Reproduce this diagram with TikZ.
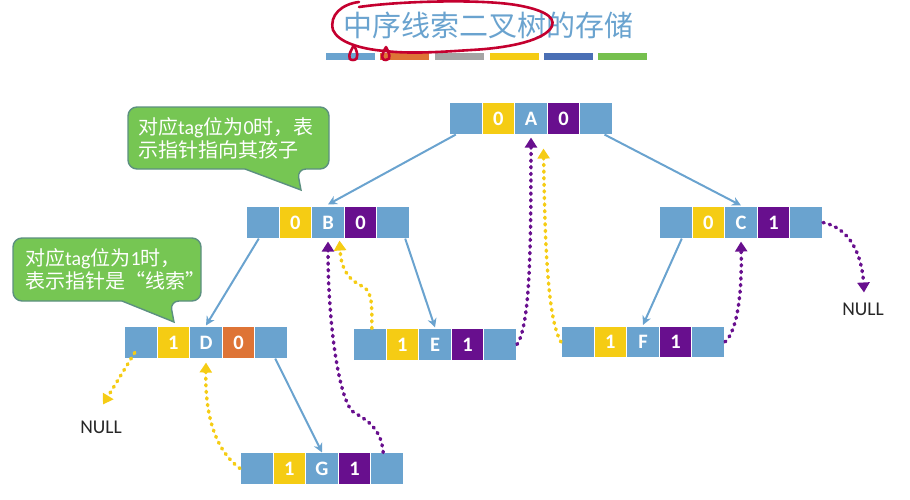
\documentclass[tikz,border=0pt]{standalone}
\usepackage{fontspec}
\setmainfont{Carlito}
\newfontfamily\cjk{Noto Sans CJK SC}
\usetikzlibrary{arrows.meta}
\definecolor{cellblue}{HTML}{6AA3CF}
\definecolor{tagyellow}{HTML}{F5CC14}
\definecolor{tagpurple}{HTML}{680F8E}
\definecolor{tagorange}{HTML}{DE7436}
\definecolor{barblue}{HTML}{4A6FB5}
\definecolor{bargreen}{HTML}{76C04E}
\definecolor{bargray}{HTML}{A5A5A5}
\definecolor{tipgreen}{HTML}{76C653}
\definecolor{tipedge}{HTML}{5C9080}
\definecolor{inkred}{HTML}{C4002F}
\tikzset{
  cellbox/.style={draw=white,line width=0.6pt,minimum width=33pt,minimum height=31.5pt,inner sep=0pt,text=white,font=\fontsize{20.5}{21}\selectfont\bfseries},
  ptrcell/.style={cellbox,fill=cellblue},
  yellowcell/.style={cellbox,fill=tagyellow},
  purplecell/.style={cellbox,fill=tagpurple},
  orangecell/.style={cellbox,fill=tagorange},
  childline/.style={draw=cellblue,line width=2pt,-{Stealth[length=9pt,width=9pt]}},
  threadline/.style={line width=3.5pt,line cap=round,dash pattern=on 1.2pt off 5.4pt},
  purplethread/.style={threadline,draw=tagpurple,-{Triangle[length=10pt,width=12pt,fill=tagpurple]}},
  yellowthread/.style={threadline,draw=tagyellow,-{Triangle[length=10pt,width=12pt,fill=tagyellow]}},
  tipbox/.style={draw=tipedge,line width=1.4pt,fill=tipgreen},
  tiptext/.style={anchor=north west,inner sep=0pt,align=left,text=white,font=\fontsize{20}{23}\selectfont},
  nulltext/.style={inner sep=0pt,text=black!85,font=\fontsize{19.5}{20}\selectfont},
  titlebar/.style={minimum width=49pt,minimum height=6.5pt,inner sep=0pt},
  inkline/.style={draw=inkred,line width=2.6pt,line cap=round,line join=round}
}
\begin{document}
\begin{tikzpicture}[x=1pt,y=-1pt]
\useasboundingbox (0,0) rectangle (910,499);

\node[text=cellblue,font=\fontsize{29}{30}\selectfont\cjk] (title) at (488,25) {中序线索二叉树的存储};
\node[titlebar,fill=cellblue] (bar1) at (350.5,56.5) {};
\node[titlebar,fill=tagorange] (bar2) at (404,56.5) {};
\node[titlebar,fill=bargray] (bar3) at (459,56.5) {};
\node[titlebar,fill=tagyellow] (bar4) at (514,56.5) {};
\node[titlebar,fill=barblue] (bar5) at (568.5,56.5) {};
\node[titlebar,fill=bargreen] (bar6) at (622.5,56.5) {};
\draw[inkline] (359,7) .. controls (400,1) and (480,-1) .. (516,5) .. controls (540,9) and (556,16) .. (552,26) .. controls (546,40) and (510,48) .. (471,50) .. controls (440,52) and (410,54) .. (385,51) .. controls (360,49) and (338,42) .. (333,30) .. controls (329,15) and (342,4) .. (359,2);
\draw[inkline] (354,45) .. controls (350,52) and (346,60) .. (353,60) .. controls (360,60) and (357,51) .. (354,45);
\draw[inkline] (386,47) .. controls (383,52) and (379,60) .. (386,60) .. controls (392,60) and (389,52) .. (386,47);

\node[ptrcell] (Alc) at (465.8,118.5) {};
\node[yellowcell] (Alt) at (498.4,118.5) {0};
\node[ptrcell] (Ad) at (531,118.5) {A};
\node[purplecell] (Art) at (563.6,118.5) {0};
\node[ptrcell] (Arc) at (596.2,118.5) {};

\node[ptrcell] (Blc) at (262.8,222.5) {};
\node[yellowcell] (Blt) at (295.4,222.5) {0};
\node[ptrcell] (Bd) at (328,222.5) {B};
\node[purplecell] (Brt) at (360.6,222.5) {0};
\node[ptrcell] (Brc) at (393.2,222.5) {};

\node[ptrcell] (Clc) at (675.8,222.5) {};
\node[yellowcell] (Clt) at (708.4,222.5) {0};
\node[ptrcell] (Cd) at (741,222.5) {C};
\node[purplecell] (Crt) at (773.6,222.5) {1};
\node[ptrcell] (Crc) at (806.2,222.5) {};

\node[ptrcell] (Dlc) at (140.8,342.5) {};
\node[yellowcell] (Dlt) at (173.4,342.5) {1};
\node[ptrcell] (Dd) at (206,342.5) {D};
\node[orangecell] (Drt) at (238.6,342.5) {0};
\node[ptrcell] (Drc) at (271.2,342.5) {};

\node[ptrcell] (Elc) at (369.8,344.5) {};
\node[yellowcell] (Elt) at (402.4,344.5) {1};
\node[ptrcell] (Ed) at (435,344.5) {E};
\node[purplecell] (Ert) at (467.6,344.5) {1};
\node[ptrcell] (Erc) at (500.2,344.5) {};

\node[ptrcell] (Flc) at (577.8,342) {};
\node[yellowcell] (Flt) at (610.4,342) {1};
\node[ptrcell] (Fd) at (643,342) {F};
\node[purplecell] (Frt) at (675.6,342) {1};
\node[ptrcell] (Frc) at (708.2,342) {};

\node[ptrcell] (Glc) at (256.8,468.5) {};
\node[yellowcell] (Glt) at (289.4,468.5) {1};
\node[ptrcell] (Gd) at (322,468.5) {G};
\node[purplecell] (Grt) at (354.6,468.5) {1};
\node[ptrcell] (Grc) at (387.2,468.5) {};

\node[nulltext] (nullD) at (101,427) {NULL};
\node[nulltext] (nullC) at (863,309) {NULL};

\draw[childline] ([xshift=-10pt]Alc.south) -- ([yshift=2pt]Bd.north);
\draw[childline] ([xshift=8.3pt]Arc.south) -- ([yshift=1pt]Cd.north);
\draw[childline] ([xshift=-4pt]Blc.south) -- ([yshift=1pt]Dd.north);
\draw[childline] ([xshift=12pt]Brc.south) -- ([yshift=1pt]Ed.north);
\draw[childline] ([xshift=6pt]Clc.south) -- ([yshift=1pt]Fd.north);
\draw[childline] ([xshift=4pt]Drc.south) -- (Gd.north);

\draw[yellowthread] ([xshift=-6pt,yshift=-10pt]Dlc.center) -- ([xshift=2pt,yshift=16pt]nullD.north);
\draw[yellowthread] (Glc.west) .. controls (215,450) and (205,415) .. ([yshift=-4pt]Dd.south);
\draw[purplethread] ([xshift=-4pt]Grc.north) .. controls (381,425) and (362,418) .. (352,411) .. controls (338,395) and (328,320) .. ([yshift=-3pt]Bd.south);
\draw[yellowthread] ([xshift=2pt]Elc.north) .. controls (372,300) and (372,290) .. (360,285) .. controls (345,277) and (341,265) .. ([xshift=11.5pt,yshift=-2pt]Bd.south);
\draw[purplethread] (Erc.east) .. controls (530,325) and (531,250) .. ([yshift=-3pt]Ad.south);
\draw[yellowthread] (Flc.west) .. controls (548,320) and (545,250) .. ([xshift=12.5pt,yshift=-14pt]Ad.south);
\draw[purplethread] (Frc.east) .. controls (738,330) and (742,290) .. ([yshift=-3pt]Cd.south);
\draw[purplethread] (Crc.east) .. controls (850,228) and (862,255) .. ([xshift=1pt,yshift=10pt]nullC.north);

\draw[tipbox] (128,138) [rounded corners=9pt] -- (128,107) -- (329,107) -- (329,169) -- (297,169) [sharp corners] -- (301,190) -- (245,169) [rounded corners=9pt] -- (128,169) -- cycle;
\node[tiptext] (tipzero) at (138,117) {\cjk 对应{\rmfamily tag}位为{\rmfamily 0}时，表\\\cjk 示指针指向其孩子};
\draw[tipbox] (13,270) [rounded corners=9pt] -- (13,238) -- (201,238) -- (201,301) -- (170,301) [sharp corners] -- (174,322) -- (122,301) [rounded corners=9pt] -- (13,301) -- cycle;
\node[tiptext] (tipone) at (25,248) {\cjk 对应{\rmfamily tag}位为{\rmfamily 1}时，\\\cjk 表示指针是“线索”};
\end{tikzpicture}
\end{document}
